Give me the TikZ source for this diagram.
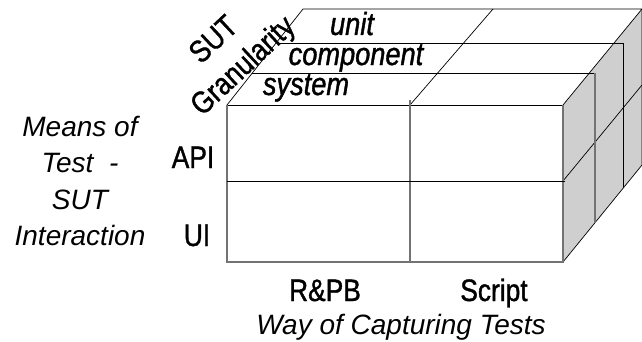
\documentclass[tikz,border=0pt]{standalone}
\usepackage{fontspec}
\setmainfont{Liberation Sans}
\newfontfamily\narrowfont[FakeStretch=0.85,FakeBold=1.2]{Liberation Sans}

\begin{document}
\begin{tikzpicture}[x=1pt,y=1pt,
  edge/.style={line width=0.7pt,black},
  seam/.style={line width=1.3pt,black!55},
  lbl/.style={inner sep=0pt,anchor=base},
  axis/.style={lbl,font=\narrowfont\fontsize{31}{36}\selectfont},
  cell/.style={lbl,font=\narrowfont\itshape\fontsize{32}{36}\selectfont},
  dimlbl/.style={inner sep=0pt,font=\itshape\fontsize{28}{36.5}\selectfont,align=center}]
\useasboundingbox (0,0) rectangle (642,341);
% side face
\fill[black!19] (563,236) -- (642,332) -- (642,176) -- (563,79) -- cycle;
% top face and rows
\draw[edge] (227,236) -- (303,332) -- (642,332) -- (563,236);
\draw[edge] (252,268) -- (595,268);
\draw[edge] (279,298) -- (623,298);
\draw[edge] (410,236) -- (493,332);
% right face
\draw[edge] (642,332) -- (642,176) -- (563,79);
\draw[edge] (563,160) -- (642,256);
\draw[edge] (623,298) -- (623,154);
\draw[seam] (595,268) -- (595,118);
% front face
\draw[edge] (227,236) -- (563,236);
\draw[seam] (227,236) -- (227,79) -- (563,79) -- (563,236);
\draw[seam] (410,241) -- (410,79);
\draw[edge] (227,160) -- (565,160);

\node[cell] (unit) at (352,306) {unit};
\node[cell] (component) at (356,276) {component};
\node[cell] (system) at (306,246) {system};

\node[axis,anchor=center,rotate=43] (sut) at (213,302) {SUT};
\node[axis,anchor=center,rotate=43] (gran) at (244,274) {Granularity};

\node[axis] (api) at (193,173) {API};
\node[axis] (ui) at (197,95) {UI};
\node[dimlbl] (means) at (80,160) {Means of\\Test~~-\\SUT\\Interaction};

\node[axis] (rpb) at (325,40) {R\&PB};
\node[axis] (script) at (494,40) {Script};
\node[dimlbl,anchor=base] (way) at (401,7) {Way of Capturing Tests};
\end{tikzpicture}
\end{document}
